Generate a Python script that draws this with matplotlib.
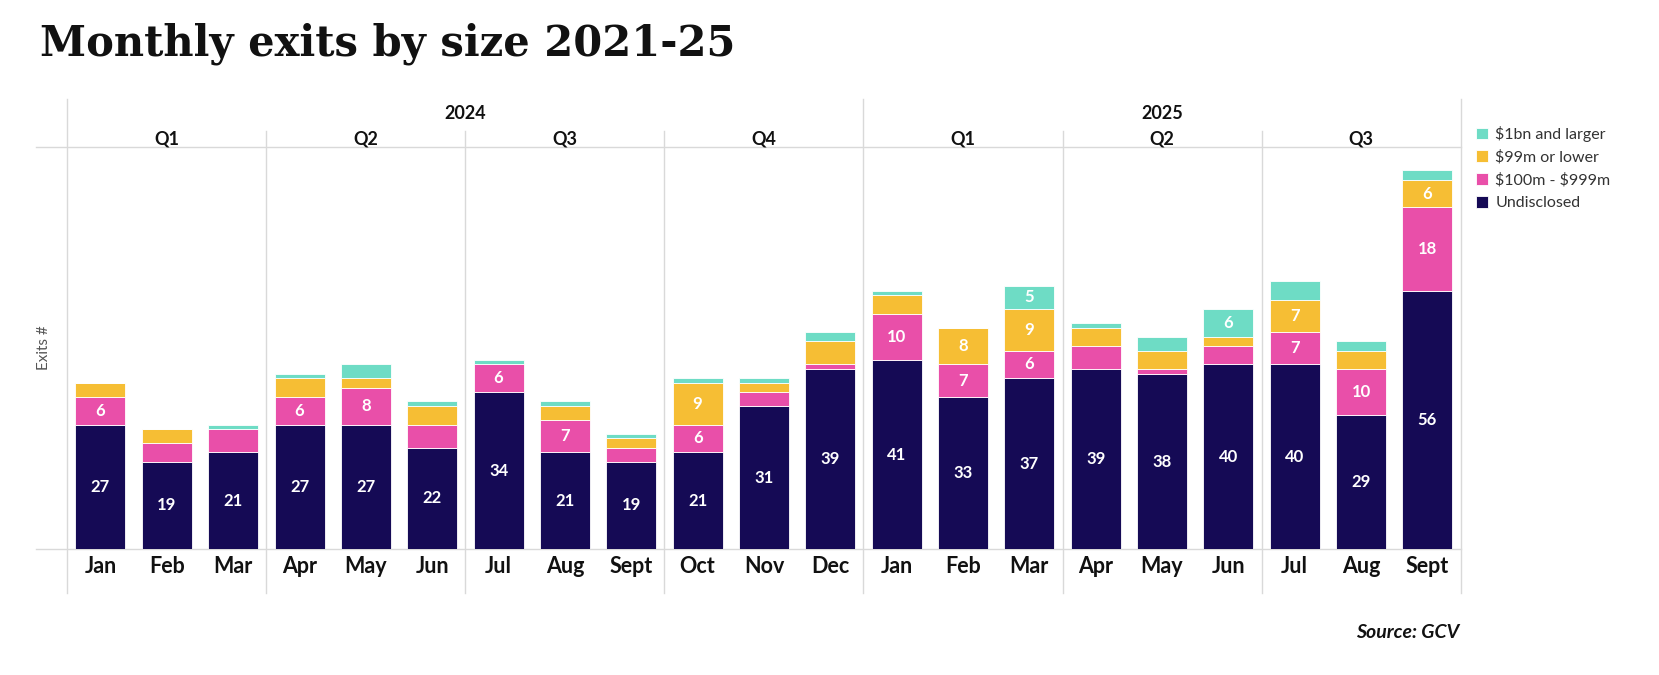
import matplotlib
matplotlib.use("Agg")
import matplotlib.pyplot as plt
import numpy as np

plt.rcParams['font.family'] = ['Lato', 'DejaVu Sans']

MESES = ["Jan", "Feb", "Mar", "Apr", "May", "Jun", "Jul", "Aug", "Sept", "Oct", "Nov", "Dec",
         "Jan", "Feb", "Mar", "Apr", "May", "Jun", "Jul", "Aug", "Sept"]
ANIOS = ["2024", "2025"]
TRIMESTRES = ["Q1", "Q2", "Q3", "Q4", "Q1", "Q2", "Q3"]

undisclosed = [27, 19, 21, 27, 27, 22, 34, 21, 19, 21, 31, 39,
               41, 33, 37, 39, 38, 40, 40, 29, 56]
medianas = [6, 4, 5, 6, 8, 5, 6, 7, 3, 6, 3, 1,
            10, 7, 6, 5, 1, 4, 7, 10, 18]          # $100m - $999m
chicas = [3, 3, 0, 4, 2, 4, 0, 3, 2, 9, 2, 5,
          4, 8, 9, 4, 4, 2, 7, 4, 6]               # $99m or lower
grandes = [0, 0, 1, 1, 3, 1, 1, 1, 1, 1, 1, 2,
           1, 0, 5, 1, 3, 6, 4, 2, 2]              # $1bn and larger

SERIES = [
    ("Undisclosed", undisclosed, "#150a55"),
    ("\\$100m - \\$999m", medianas, "#e94fa9"),
    ("\\$99m or lower", chicas, "#f6be34"),
    ("\\$1bn and larger", grandes, "#6edcc5"),
]
# etiquetas extra que el original muestra aunque sean chicas
ETIQUETAS_EXTRA = {("\\$1bn and larger", 14)}

GRIS = "#d9d9d9"

fig = plt.figure(figsize=(16.59, 6.75), dpi=100)
ax = fig.add_axes([67.3 / 1659, 1 - 549.3 / 675, (1460.6 - 67.3) / 1659, 402 / 675])

x = np.arange(len(MESES))
base = np.zeros(len(MESES))
barras = {}
for nombre, valores, color in SERIES:
    valores = np.array(valores)
    barras[nombre] = ax.bar(x, valores, 0.754, bottom=base, color=color,
                            edgecolor="white", linewidth=0.6, label=nombre, zorder=3)
    for i, v in enumerate(valores):
        if v >= 6 or (nombre, i) in ETIQUETAS_EXTRA:
            ax.text(i, base[i] + v / 2, str(v), ha="center", va="center",
                    color="white", fontsize=12, fontweight="bold", zorder=4)
    base = base + valores

ax.set_xlim(-0.5, len(MESES) - 0.5)
ax.set_ylim(0, 87)
ax.axis("off")

trans = ax.get_xaxis_transform()
x_izq = -0.972
ax.plot([x_izq, len(MESES) - 0.5], [0, 0], color=GRIS, lw=1, transform=trans, clip_on=False)
ax.plot([x_izq, len(MESES) - 0.5], [1, 1], color=GRIS, lw=1, transform=trans, clip_on=False)

# divisiones de anio y trimestre
for xv in [-0.5, 11.5, len(MESES) - 0.5]:
    ax.plot([xv, xv], [-0.108, 1.12], color=GRIS, lw=1, transform=trans, clip_on=False)
for q in range(1, len(TRIMESTRES)):
    xv = q * 3 - 0.5
    if xv != 11.5:
        ax.plot([xv, xv], [-0.108, 1.041], color=GRIS, lw=1, transform=trans, clip_on=False)

for i, q in enumerate(TRIMESTRES):
    ax.text(i * 3 + 1, 1.021, q, transform=trans, ha="center", va="center",
            fontsize=13, fontweight="bold", color="#111111")
ax.text(5.5, 1.083, ANIOS[0], transform=trans, ha="center", va="center",
        fontsize=13, fontweight="bold", color="#111111")
ax.text(16, 1.083, ANIOS[1], transform=trans, ha="center", va="center",
        fontsize=13, fontweight="bold", color="#111111")

for i, m in enumerate(MESES):
    ax.text(i, -0.044, m, transform=trans, ha="center", va="center",
            fontsize=15.5, fontweight="bold", color="#111111")

fig.text(44 / 1659, 1 - 348 / 675, "Exits #", rotation=90, ha="center", va="center",
         fontsize=11, color="#555555")

fig.text(40 / 1659, 1 - 44 / 675, "Monthly exits by size 2021-25", ha="left", va="center",
         fontsize=30, fontweight="bold", family="DejaVu Serif", color="#111111")

fig.text(1459 / 1659, 1 - 632 / 675, "Source: GCV", ha="right", va="center",
         fontsize=14, fontweight="bold", fontstyle="italic", color="#111111")

orden = ["\\$1bn and larger", "\\$99m or lower", "\\$100m - \\$999m", "Undisclosed"]
fig.legend([barras[n] for n in orden], orden, loc="upper left",
           bbox_to_anchor=(1476 / 1659, 1 - 126 / 675), frameon=False,
           fontsize=11.5, handlelength=0.75, handleheight=0.75, handletextpad=0.45,
           labelspacing=0.52, borderpad=0, borderaxespad=0, labelcolor="#333333")

fig.savefig("out.png", dpi=100)
